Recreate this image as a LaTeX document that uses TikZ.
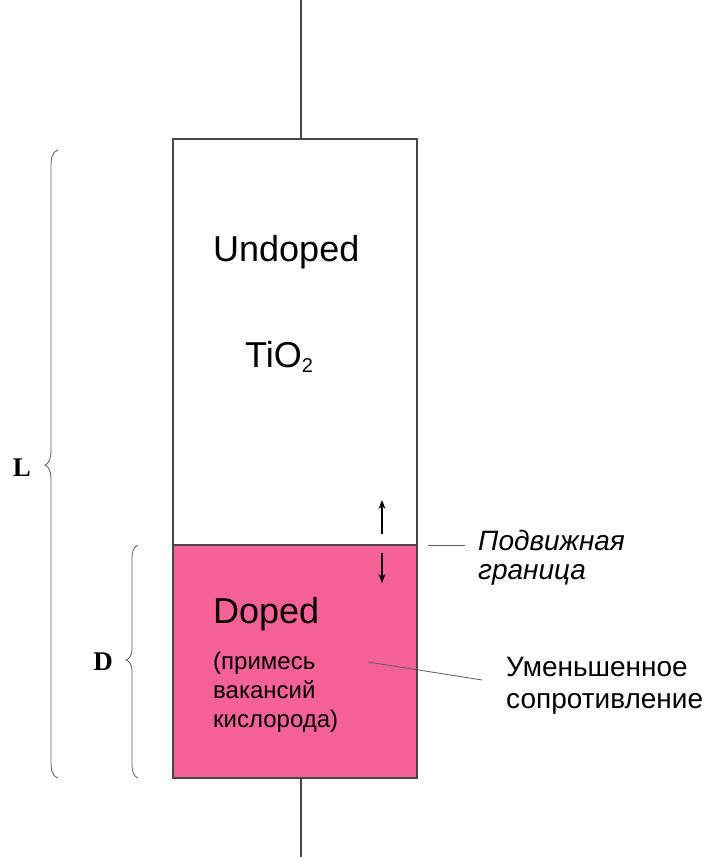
\documentclass[tikz,border=0pt]{standalone}
\usepackage{fontspec}
\setmainfont{Liberation Sans}
\newfontfamily\dimfont{Liberation Serif}
\usetikzlibrary{arrows.meta}
\definecolor{dopedpink}{RGB}{246,98,150}
\definecolor{edgegray}{RGB}{70,70,70}
\definecolor{leadgray}{RGB}{90,90,90}
\tikzset{
  layer/.style={draw=edgegray, line width=1.1pt, minimum width=244pt, inner sep=0pt, outer sep=0pt},
  wire/.style={draw=edgegray, line width=1.1pt},
  brace/.style={draw=leadgray, line width=0.8pt},
  leader/.style={draw=leadgray, line width=0.8pt},
  motion/.style={draw=black, line width=1.4pt, -{Stealth[length=9pt,width=7pt]}},
  bigtext/.style={anchor=west, inner sep=0pt, font=\fontsize{36}{43}\selectfont},
  subtext/.style={anchor=west, inner sep=0pt, align=left, font=\fontsize{24}{29}\selectfont},
  sidetext/.style={anchor=west, inner sep=0pt, align=left, font=\fontsize{28}{32}\selectfont},
  dimlabel/.style={inner sep=0pt, font=\dimfont\bfseries\fontsize{27}{27}\selectfont}
}
\begin{document}
\begin{tikzpicture}[x=1pt, y=-1pt]
\useasboundingbox (0,0) rectangle (708,857);

% memristor body: undoped and doped layers
\node[layer, minimum height=406pt, fill=white] (undoped) at (295,342) {};
\node[layer, minimum height=233pt, fill=dopedpink] (doped) at (295,661.5) {};

% terminals
\coordinate (topend) at (301,0);
\coordinate (botend) at (301,857);
\draw[wire] (topend) -- (undoped.north -| topend);
\draw[wire] (doped.south -| botend) -- (botend);

% layer labels
\node[bigtext] (undopedlbl) at (213,252) {Undoped};
\node[bigtext] (tio) at (245,357) {TiO{\fontsize{20}{20}\selectfont\raisebox{-0.25em}{2}}};
\node[bigtext] (dopedlbl) at (213,614) {Doped};
\node[subtext] (vacancy) at (213,692) {(примесь\\вакансий\\кислорода)};

% boundary motion arrows
\coordinate (upfrom) at (382,534);
\coordinate (upto) at (382,500);
\coordinate (downfrom) at (382,553);
\coordinate (downto) at (382,583);
\draw[motion] (upfrom) -- (upto);
\draw[motion] (downfrom) -- (downto);

% side annotations
\node[sidetext, font=\itshape\fontsize{28}{29}\selectfont] (boundary) at (478,558) {Подвижная\\граница};
\coordinate (bnda) at (428,545);
\coordinate (bndb) at (465,545);
\draw[leader] (bnda) -- (bndb);

\node[sidetext] (resist) at (506,686) {Уменьшенное\\сопротивление};
\coordinate (resa) at (368,662);
\coordinate (resb) at (482,680);
\draw[leader] (resa) -- (resb);

% dimension braces
\draw[brace] (58,150) .. controls (52,152) and (51,158) .. (51,168) -- (51,450)
  .. controls (51,460) and (48,464) .. (45,465) .. controls (48,466) and (51,470) .. (51,480)
  -- (51,760) .. controls (51,770) and (52,776) .. (58,778);
\draw[brace] (138,545) .. controls (133,547) and (132,552) .. (132,560) -- (132,648)
  .. controls (132,656) and (129,659) .. (126,660) .. controls (129,661) and (132,664) .. (132,672)
  -- (132,763) .. controls (132,771) and (133,776) .. (138,778);
\node[dimlabel] (lenL) at (22,468) {L};
\node[dimlabel] (lenD) at (103,662) {D};
\end{tikzpicture}
\end{document}
